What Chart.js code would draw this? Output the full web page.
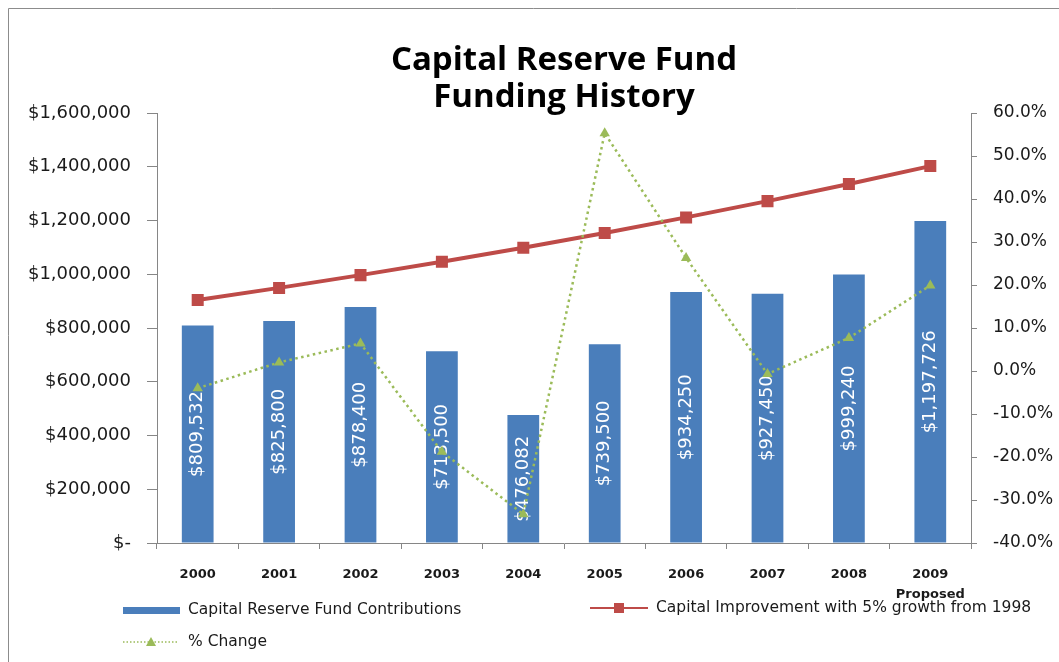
<!DOCTYPE html>
<html>
<head>
<meta charset="utf-8">
<title>Capital Reserve Fund Funding History</title>
<script src="https://cdn.jsdelivr.net/npm/chart.js@4/dist/chart.umd.min.js"></script>
<style>
  html, body { margin: 0; padding: 0; background: #fff; }
  #grafico { display: block; }
</style>
</head>
<body>
<canvas id="grafico" width="1059" height="662"></canvas>
<script>
// dados do gráfico
const anos = ['2000', '2001', '2002', '2003', '2004', '2005', '2006', '2007', '2008', ['2009', 'Proposed']];
const contribuicoes = [809532, 825800, 878400, 713500, 476082, 739500, 934250, 927450, 999240, 1197726];
const melhoria = [904050, 949253, 996715, 1046551, 1098878, 1153822, 1211513, 1272089, 1335693, 1402478];
const variacao = [-4.0, 2.0, 6.4, -18.8, -33.3, 55.3, 26.3, -0.7, 7.7, 19.9];
const titulo = ['Capital Reserve Fund', 'Funding History'];
const legendas = ['Capital Reserve Fund Contributions', 'Capital Improvement with 5% growth from 1998', '% Change'];

const AZUL = '#4a7ebb';
const VERMELHO = '#be4b48';
const VERDE = '#9bbb59';
const CINZA = '#868686';
const TEXTO = '#1a1a1a';

const dolar = v => v === 0 ? '$-' : '$' + v.toLocaleString('en-US');

// moldura, rótulos das barras, título e legenda
const enfeites = {
  id: 'enfeites',
  beforeDraw(chart) {
    const ctx = chart.ctx;
    ctx.save();
    ctx.strokeStyle = '#8c8c8c';
    ctx.lineWidth = 1;
    ctx.beginPath();
    ctx.moveTo(8.5, chart.height);
    ctx.lineTo(8.5, 8.5);
    ctx.lineTo(chart.width, 8.5);
    ctx.stroke();
    ctx.restore();
  },
  afterDatasetDraw(chart, args) {
    if (args.index !== 0) return;
    const ctx = chart.ctx;
    ctx.save();
    ctx.font = '18px "DejaVu Sans"';
    ctx.fillStyle = '#ffffff';
    ctx.textAlign = 'center';
    ctx.textBaseline = 'middle';
    args.meta.data.forEach((barra, i) => {
      ctx.save();
      ctx.translate(barra.x, (barra.y + barra.base) / 2);
      ctx.rotate(-Math.PI / 2);
      ctx.fillText(dolar(contribuicoes[i]), 0, 0);
      ctx.restore();
    });
    ctx.restore();
  },
  afterDraw(chart) {
    const ctx = chart.ctx;
    const area = chart.chartArea;
    ctx.save();

    // título
    ctx.fillStyle = '#000';
    ctx.font = 'bold 33px "Open Sans"';
    ctx.textAlign = 'center';
    ctx.textBaseline = 'alphabetic';
    const cx = (area.left + area.right) / 2;
    ctx.fillText(titulo[0], cx, 70);
    ctx.fillText(titulo[1], cx, 107);

    // legenda
    ctx.font = '15.5px "DejaVu Sans"';
    ctx.textAlign = 'left';
    ctx.textBaseline = 'middle';

    ctx.fillStyle = AZUL;
    ctx.fillRect(123, 607, 57, 7);
    ctx.fillStyle = TEXTO;
    ctx.fillText(legendas[0], 188, 610);

    ctx.strokeStyle = VERMELHO;
    ctx.lineWidth = 2;
    ctx.beginPath();
    ctx.moveTo(590, 608);
    ctx.lineTo(648, 608);
    ctx.stroke();
    ctx.fillStyle = VERMELHO;
    ctx.fillRect(614, 603, 10, 10);
    ctx.fillStyle = TEXTO;
    ctx.fillText(legendas[1], 656, 608);

    ctx.strokeStyle = VERDE;
    ctx.lineWidth = 1.5;
    ctx.setLineDash([1.5, 2]);
    ctx.beginPath();
    ctx.moveTo(123, 642);
    ctx.lineTo(179, 642);
    ctx.stroke();
    ctx.setLineDash([]);
    ctx.fillStyle = VERDE;
    ctx.beginPath();
    ctx.moveTo(151, 637);
    ctx.lineTo(156, 646);
    ctx.lineTo(146, 646);
    ctx.closePath();
    ctx.fill();
    ctx.fillStyle = TEXTO;
    ctx.fillText(legendas[2], 188, 642);

    ctx.restore();
  }
};

const ctx = document.getElementById('grafico').getContext('2d');
new Chart(ctx, {
  type: 'bar',
  data: {
    labels: anos,
    datasets: [
      {
        type: 'bar',
        label: legendas[0],
        data: contribuicoes,
        backgroundColor: AZUL,
        barPercentage: 0.39,
        categoryPercentage: 1,
        yAxisID: 'y',
        order: 3
      },
      {
        type: 'line',
        label: legendas[1],
        data: melhoria,
        borderColor: VERMELHO,
        borderWidth: 4,
        pointStyle: 'rect',
        pointRadius: 8.5,
        pointBackgroundColor: VERMELHO,
        pointBorderColor: VERMELHO,
        pointBorderWidth: 0,
        tension: 0,
        yAxisID: 'y',
        order: 2
      },
      {
        type: 'line',
        label: legendas[2],
        data: variacao,
        borderColor: VERDE,
        borderWidth: 2.5,
        borderDash: [2.5, 3.5],
        pointStyle: 'triangle',
        pointRadius: 6,
        pointBackgroundColor: VERDE,
        pointBorderColor: VERDE,
        pointBorderWidth: 0,
        tension: 0,
        yAxisID: 'y1',
        order: 1
      }
    ]
  },
  options: {
    responsive: false,
    animation: false,
    layout: { padding: { top: 113, left: 0, right: 0, bottom: 0 } },
    plugins: {
      legend: { display: false },
      title: { display: false },
      tooltip: { enabled: false }
    },
    scales: {
      x: {
        grid: { drawOnChartArea: false, tickLength: 6, color: CINZA, offset: true },
        border: { color: CINZA },
        ticks: {
          color: TEXTO,
          padding: 16,
          maxRotation: 0,
          font: { family: '"DejaVu Sans"', size: 13, weight: 'bold', lineHeight: 1.5 }
        },
        afterFit(escala) { escala.height = 119; }
      },
      y: {
        position: 'left',
        min: 0,
        max: 1600000,
        grid: { drawOnChartArea: false, tickLength: 10, color: CINZA },
        border: { color: CINZA },
        ticks: {
          stepSize: 200000,
          color: TEXTO,
          padding: 16,
          font: { family: '"DejaVu Sans"', size: 18 },
          callback: v => dolar(v)
        },
        afterFit(escala) { escala.width = 157; }
      },
      y1: {
        position: 'right',
        min: -40,
        max: 60,
        grid: { drawOnChartArea: false, tickLength: 6, color: CINZA },
        border: { color: CINZA },
        ticks: {
          stepSize: 10,
          color: TEXTO,
          padding: 16,
          font: { family: '"DejaVu Sans"', size: 17 },
          callback: v => v.toFixed(1) + '%'
        },
        afterFit(escala) { escala.width = 88; }
      }
    }
  },
  plugins: [enfeites]
});
</script>
</body>
</html>
